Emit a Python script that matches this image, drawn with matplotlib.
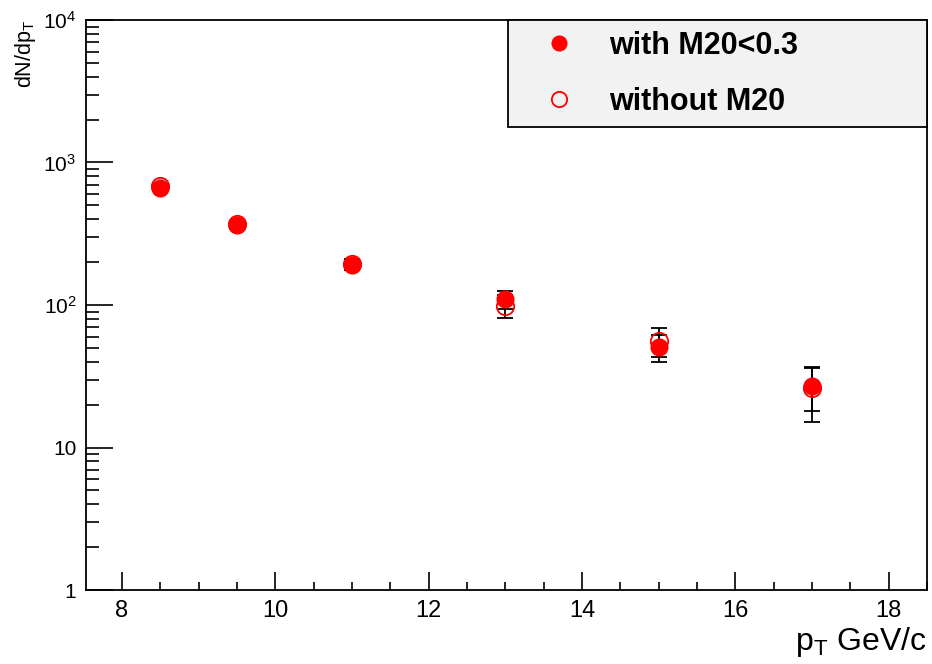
import numpy as np
import matplotlib.pyplot as plt
from matplotlib.ticker import FixedLocator, FixedFormatter, NullFormatter

plt.rcParams['font.family'] = ['Liberation Sans', 'DejaVu Sans']
plt.rcParams['mathtext.fontset'] = 'custom'
plt.rcParams['mathtext.rm'] = 'Liberation Sans'
plt.rcParams['mathtext.it'] = 'Liberation Sans'

# data
pt = [8.5, 9.5, 11, 13, 15, 17]
with_m20 = [660, 362, 190, 110, 51, 27]
with_m20_err = [30, 20, 15, 16, 11, 9]
without_m20 = [680, 370, 195, 99, 56, 26]
without_m20_err = [30, 20, 15, 18, 13, 11]

ytick_vals = [1, 10, 100, 1000, 10000]
ytick_labels = ['1', '10', '$10^{2}$', '$10^{3}$', '$10^{4}$']

fig = plt.figure(figsize=(9.32, 6.64), dpi=100)
ax = fig.add_axes([0.0923, 0.1114, 0.9023, 0.8585])

# error bars below markers
ax.errorbar(pt, without_m20, yerr=without_m20_err, fmt='none', ecolor='black',
            elinewidth=1.3, capsize=6, capthick=1.3, zorder=2)
ax.errorbar(pt, with_m20, yerr=with_m20_err, fmt='none', ecolor='black',
            elinewidth=1.3, capsize=6, capthick=1.3, zorder=2)
ax.plot(pt, without_m20, 'o', ms=12.5, mfc='none', mec='red', mew=1.3, ls='none',
        zorder=3, label='without M20')
ax.plot(pt, with_m20, 'o', ms=12, mfc='red', mec='red', ls='none',
        zorder=4, label='with M20<0.3')

ax.set_yscale('log')
ax.set_xlim(7.53, 18.47)
ax.set_ylim(1, 10000)

ax.set_xticks(np.arange(8, 19, 2))
ax.set_xticks(np.arange(8, 18.6, 0.5), minor=True)
ax.yaxis.set_major_locator(FixedLocator(ytick_vals))
ax.yaxis.set_major_formatter(FixedFormatter(ytick_labels))
ax.yaxis.set_minor_formatter(NullFormatter())
ax.tick_params(axis='x', which='major', direction='in', length=13, width=1.2,
               labelsize=17, pad=7)
ax.tick_params(axis='x', which='minor', direction='in', length=6, width=1.2)
ax.tick_params(axis='y', which='major', direction='in', length=19.5, width=1.2,
               labelsize=15, pad=7)
ax.tick_params(axis='y', which='minor', direction='in', length=9.5, width=1.2)
for sp in ax.spines.values():
    sp.set_linewidth(1.3)

ax.set_xlabel('p$_{T}$ GeV/c', fontsize=23, loc='right', labelpad=2)
ax.set_ylabel('dN/dp$_{T}$', fontsize=15.5, loc='top', labelpad=4)

handles, labels = ax.get_legend_handles_labels()
leg = ax.legend(handles[::-1], labels[::-1], loc='upper left',
                bbox_to_anchor=(0.502, 0.0, 0.498, 1.0), mode='expand',
                fancybox=False, framealpha=1, facecolor='#f2f2f2', edgecolor='black',
                prop={'weight': 'bold', 'size': 22}, borderaxespad=0,
                labelspacing=0.85, handletextpad=0.3, borderpad=0.35,
                markerscale=0.88, handlelength=2.65)
leg.get_frame().set_linewidth(1.3)

fig.savefig('out.png', dpi=100)
